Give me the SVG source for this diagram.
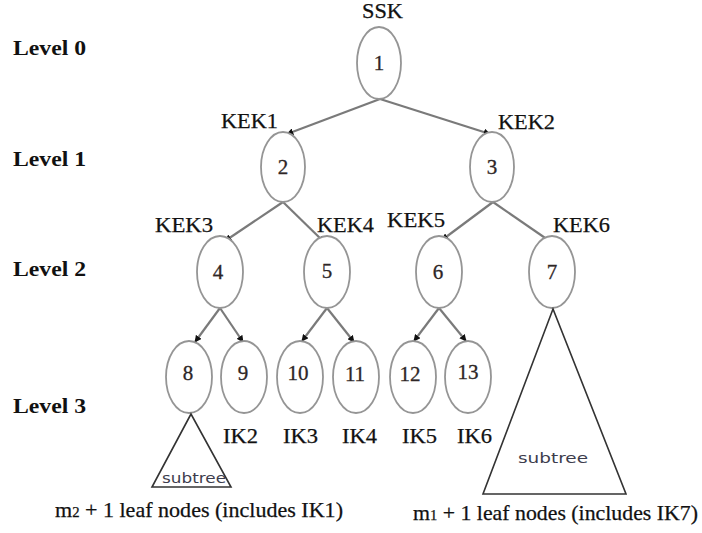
<svg xmlns="http://www.w3.org/2000/svg" width="702" height="533" viewBox="0 0 702 533">
  <style>
    .node ellipse { fill: #ffffff; stroke: #959595; stroke-width: 1.8; }
    .node text { font-family: 'Liberation Serif', Tinos, 'Times New Roman', 'DejaVu Serif', serif; font-size: 21px; fill: #2e2626; stroke: #2e2626; stroke-width: 0.3; text-anchor: middle; }
    .edge { stroke: #7a7a7a; stroke-width: 2.2; fill: none; marker-end: url(#arrow); }
    .tri { fill: #ffffff; stroke: #333333; stroke-width: 1.6; stroke-linejoin: miter; }
    .lbl { font-family: 'Liberation Serif', Tinos, 'Times New Roman', 'DejaVu Serif', serif; font-size: 21px; fill: #111111; stroke: #111111; stroke-width: 0.25; }
    .lvl { font-family: 'Liberation Serif', Tinos, 'Times New Roman', 'DejaVu Serif', serif; font-size: 21px; font-weight: bold; fill: #111111; }
    .sub { font-family: 'DejaVu Sans', 'Liberation Sans', sans-serif; font-size: 14px; fill: #3d3d4d; }
  </style>
  <defs>
    <marker id="arrow" viewBox="0 0 10 10" refX="9" refY="5" markerWidth="7" markerHeight="7" markerUnits="userSpaceOnUse" orient="auto">
      <path d="M0,0 L10,5 L0,10 Z" fill="#111111"/>
    </marker>
  </defs>

  <rect width="702" height="533" fill="#ffffff"/>

  <!-- level captions -->
  <g id="levels">
    <text class="lvl" x="13" y="55" textLength="73" lengthAdjust="spacingAndGlyphs">Level 0</text>
    <text class="lvl" x="13" y="166" textLength="73" lengthAdjust="spacingAndGlyphs">Level 1</text>
    <text class="lvl" x="13" y="276" textLength="73" lengthAdjust="spacingAndGlyphs">Level 2</text>
    <text class="lvl" x="13" y="413" textLength="73" lengthAdjust="spacingAndGlyphs">Level 3</text>
  </g>

  <!-- connectors -->
  <g id="connectors">
    <line class="edge" x1="380" y1="99" x2="287" y2="134"/>
    <line class="edge" x1="380" y1="99" x2="490" y2="134"/>
    <line class="edge" x1="283" y1="202" x2="225" y2="241"/>
    <line class="edge" x1="283" y1="202" x2="324" y2="242"/>
    <line class="edge" x1="493" y1="202" x2="442" y2="240"/>
    <line class="edge" x1="493" y1="202" x2="551" y2="242"/>
    <line class="edge" x1="220" y1="308" x2="195" y2="342"/>
    <line class="edge" x1="220" y1="308" x2="243" y2="342"/>
    <line class="edge" x1="327" y1="308" x2="302" y2="341"/>
    <line class="edge" x1="327" y1="308" x2="354" y2="342"/>
    <line class="edge" x1="439" y1="308" x2="414" y2="341"/>
    <line class="edge" x1="439" y1="308" x2="466" y2="341"/>
  </g>

  <!-- key labels -->
  <g id="keys">
    <text class="lbl" x="362" y="18" textLength="41" lengthAdjust="spacingAndGlyphs">SSK</text>
    <text class="lbl" x="221" y="128" textLength="57" lengthAdjust="spacingAndGlyphs">KEK1</text>
    <text class="lbl" x="498" y="129" textLength="57" lengthAdjust="spacingAndGlyphs">KEK2</text>
    <text class="lbl" x="155" y="232" textLength="58" lengthAdjust="spacingAndGlyphs">KEK3</text>
    <text class="lbl" x="317" y="232" textLength="57" lengthAdjust="spacingAndGlyphs">KEK4</text>
    <text class="lbl" x="387" y="227" textLength="58" lengthAdjust="spacingAndGlyphs">KEK5</text>
    <text class="lbl" x="553" y="232" textLength="57" lengthAdjust="spacingAndGlyphs">KEK6</text>
    <text class="lbl" x="223" y="443" textLength="35" lengthAdjust="spacingAndGlyphs">IK2</text>
    <text class="lbl" x="283" y="443" textLength="35" lengthAdjust="spacingAndGlyphs">IK3</text>
    <text class="lbl" x="342" y="443" textLength="35" lengthAdjust="spacingAndGlyphs">IK4</text>
    <text class="lbl" x="402" y="443" textLength="35" lengthAdjust="spacingAndGlyphs">IK5</text>
    <text class="lbl" x="457" y="443" textLength="35" lengthAdjust="spacingAndGlyphs">IK6</text>
  </g>

  <!-- tree nodes -->
  <g id="n1" class="node"><ellipse cx="379" cy="63" rx="22" ry="36"/><text x="379" y="70">1</text></g>
  <g id="n2" class="node"><ellipse cx="283" cy="167" rx="22" ry="35"/><text x="283" y="174">2</text></g>
  <g id="n3" class="node"><ellipse cx="492" cy="167" rx="22" ry="35"/><text x="492" y="174">3</text></g>
  <g id="n4" class="node"><ellipse cx="220" cy="272" rx="23" ry="36"/><text x="218" y="279">4</text></g>
  <g id="n5" class="node"><ellipse cx="327" cy="272" rx="23" ry="36"/><text x="327" y="278">5</text></g>
  <g id="n6" class="node"><ellipse cx="439" cy="272" rx="23" ry="36"/><text x="438" y="279">6</text></g>
  <g id="n7" class="node"><ellipse cx="552" cy="272" rx="23" ry="36"/><text x="552" y="279">7</text></g>
  <g id="n8" class="node"><ellipse cx="189" cy="377" rx="23" ry="36"/><text x="188" y="380">8</text></g>
  <g id="n9" class="node"><ellipse cx="244" cy="377" rx="23" ry="36"/><text x="243" y="380">9</text></g>
  <g id="n10" class="node"><ellipse cx="300" cy="377" rx="23" ry="36"/><text x="298" y="380">10</text></g>
  <g id="n11" class="node"><ellipse cx="356" cy="377" rx="23" ry="36"/><text x="355" y="381">11</text></g>
  <g id="n12" class="node"><ellipse cx="413" cy="377" rx="23" ry="36"/><text x="410" y="381">12</text></g>
  <g id="n13" class="node"><ellipse cx="468" cy="377" rx="23" ry="36"/><text x="468" y="379">13</text></g>

  <!-- subtrees -->
  <g id="subtree-left">
    <polygon class="tri" points="191,414 152,487 231,487"/>
    <text class="sub" x="162" y="483" textLength="64" lengthAdjust="spacingAndGlyphs">subtree</text>
  </g>
  <g id="subtree-right">
    <polygon class="tri" points="553,309 483,494 626,494"/>
    <text class="sub" x="518" y="463" textLength="70" lengthAdjust="spacingAndGlyphs" font-size="15">subtree</text>
  </g>

  <!-- leaf counts -->
  <g id="captions">
    <text class="lbl" x="55" y="517" textLength="288" lengthAdjust="spacingAndGlyphs">m<tspan font-size="14">2</tspan> + 1 leaf nodes (includes IK1)</text>
    <text class="lbl" x="413" y="520" textLength="285" lengthAdjust="spacingAndGlyphs">m<tspan font-size="14">1</tspan> + 1 leaf nodes (includes IK7)</text>
  </g>
</svg>
